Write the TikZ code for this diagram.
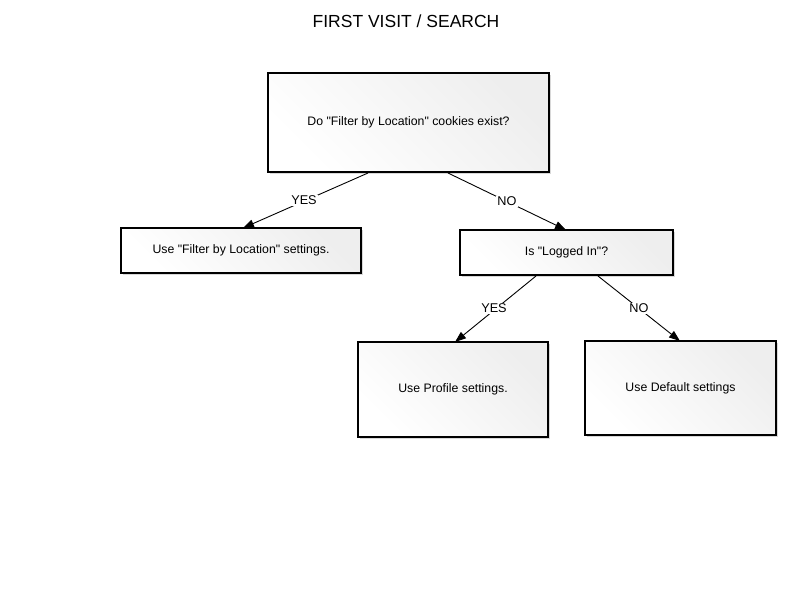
\documentclass[tikz,border=0pt]{standalone}
\usepackage{fontspec}
\setmainfont{Liberation Sans}
\usetikzlibrary{arrows.meta,shadows}
\newcommand{\qq}{\textquotedbl}
\begin{document}
\begin{tikzpicture}[x=1pt,y=-1pt,
  box/.style={draw=black, line width=2pt, rectangle, inner sep=0pt,
    left color=white, right color={rgb,255:red,238;green,238;blue,238}, shading angle=135,
    drop shadow={shadow xshift=1.5pt, shadow yshift=-1.5pt, fill=black!30, opacity=0.5},
    font=\fontsize{12.3}{14}\selectfont},
  conn/.style={draw=black, line width=0.9pt, -{Triangle[length=11pt,width=8pt]}},
  lbl/.style={fill=white, inner sep=1pt, font=\fontsize{12.7}{14}\selectfont}
]
\useasboundingbox (0,0) rectangle (800,600);
\fill[white] (0,0) rectangle (800,600);
\node[font=\fontsize{17.5}{19}\selectfont] (title) at (406,21) {FIRST VISIT / SEARCH};

\node[box, minimum width=281pt, minimum height=99pt] (q1) at (408.5,122.5) {Do \qq Filter by Location\qq{} cookies exist?};
\node[box, minimum width=240pt, minimum height=45pt] (filt) at (241,250.5) {Use \qq Filter by Location\qq{} settings.};
\node[box, minimum width=213pt, minimum height=45pt] (q2) at (566.5,252.5) {Is \qq Logged In\qq?};
\node[box, minimum width=190pt, minimum height=95pt] (prof) at (453,389.5) {Use Profile settings.};
\node[box, minimum width=191pt, minimum height=94pt] (def) at (680.5,388) {\raisebox{2pt}{Use Default settings}};

\coordinate (a1) at (368,173);
\coordinate (a2) at (448,173);
\coordinate (b1) at (536,276);
\coordinate (b2) at (598,276);
\coordinate (t1) at (243,228);
\coordinate (t2) at (566,230);
\coordinate (t3) at (455,342);
\coordinate (t4) at (680,341);

\draw[conn] (a1) -- (t1);
\draw[conn] (a2) -- (t2);
\draw[conn] (b1) -- (t3);
\draw[conn] (b2) -- (t4);

\node[lbl] (y1) at (304,200) {YES};
\node[lbl] (n1) at (507,201.5) {NO};
\node[lbl] (y2) at (494,308) {YES};
\node[lbl] (n2) at (639,308) {NO};
\end{tikzpicture}
\end{document}
